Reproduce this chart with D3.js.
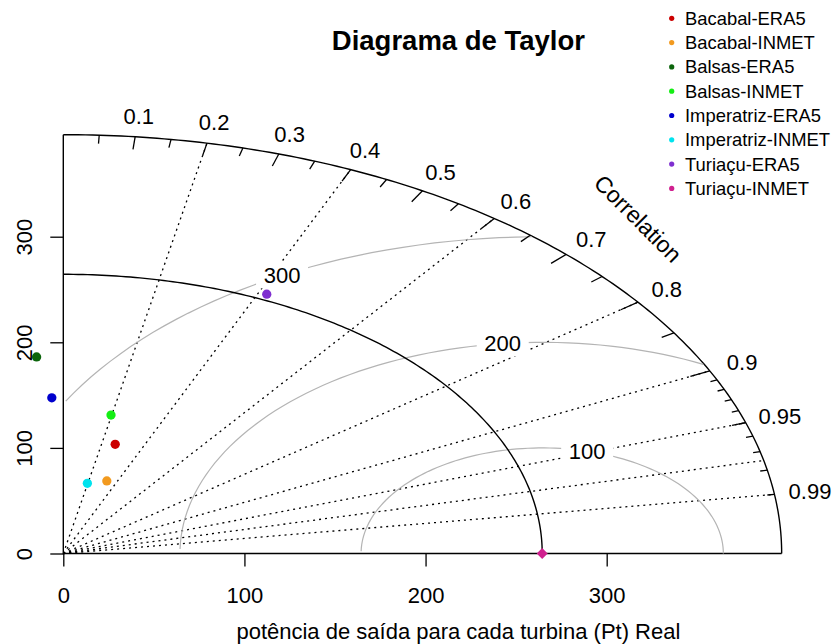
<!DOCTYPE html>
<html>
<head>
<meta charset="utf-8">
<script src="https://cdn.jsdelivr.net/npm/d3@7"></script>
<style>
  body { margin: 0; background: #fff; }
  svg text { font-family: "Liberation Sans", Arial, sans-serif; }
</style>
</head>
<body>
<div id="chart"></div>
<script>
// Taylor diagram data
const stations = ["Bacabal-ERA5", "Bacabal-INMET", "Balsas-ERA5", "Balsas-INMET",
                  "Imperatriz-ERA5", "Imperatriz-INMET", "Turiaçu-ERA5", "Turiaçu-INMET"]
const stdDevs = [107.3, 72.8, 186.7, 133.7, 147.6, 67.8, 270.0, 264.4]
const correlations = [0.267, 0.330, -0.079, 0.197, -0.043, 0.196, 0.416, 1.0]
const pointColors = ["#cc0000", "#f29a1f", "#0b640b", "#14ee14", "#0000cd", "#00e3ee", "#7f2fd0", "#d0218f"]
const pointShapes = ["circle", "circle", "circle", "circle", "circle", "circle", "circle", "diamond"]

const refSd = 264.4
const maxSd = 1.5 * refSd
const gammaValues = [100, 200, 300]
const corrLines = [0.2, 0.4, 0.6, 0.8, 0.9, 0.95, 0.975, 0.99]
const corrLabels = [0.1, 0.2, 0.3, 0.4, 0.5, 0.6, 0.7, 0.8, 0.9, 0.95, 0.99]
const axisTicks = [0, 100, 200, 300]

const width = 834
const height = 644
const fontSize = 22

const svg = d3.select("#chart").append("svg")
    .attr("width", width)
    .attr("height", height)
    .style("background", "#fff")

// plot region like R: xlim = ylim = c(0, 1.1 * maxsd), xaxs = "i"
const x = d3.scaleLinear().domain([0, 1.1 * maxSd]).range([63.3, 63.3 + 1.8113 * 1.1 * maxSd])
const y = d3.scaleLinear().domain([0, 1.1 * maxSd]).range([553.5, 553.5 - 1.056 * 1.1 * maxSd])

const line = d3.line().x(d => x(d[0])).y(d => y(d[1]))

// --------- correlation lines (dotted)
svg.append("g").selectAll("line")
    .data(corrLines)
    .join("line")
    .attr("x1", x(0)).attr("y1", y(0))
    .attr("x2", d => x(maxSd * d))
    .attr("y2", d => y(maxSd * Math.sqrt(1 - d * d)))
    .attr("stroke", "#000")
    .attr("stroke-width", 1.3)
    .attr("stroke-dasharray", "2,4")

// outer frame: left + bottom segments and outer arc
svg.append("path")
    .attr("d", line([[0, maxSd], [0, 0], [maxSd, 0]]))
    .attr("fill", "none").attr("stroke", "#000").attr("stroke-width", 1.4)

const quarter = d3.range(0, Math.PI / 2 + 0.001, 0.01).concat([Math.PI / 2])
svg.append("path")
    .attr("d", line(quarter.map(a => [Math.cos(a) * maxSd, Math.sin(a) * maxSd])))
    .attr("fill", "none").attr("stroke", "#000").attr("stroke-width", 1.4)

// --------- axes
const xAxis = svg.append("g")
    .attr("transform", `translate(0,${y(0)})`)
    .call(d3.axisBottom(x).tickValues(axisTicks).tickSize(13).tickPadding(21))
xAxis.select(".domain").remove()
xAxis.selectAll("line").attr("stroke-width", 1.3)
xAxis.selectAll("text").style("font-size", fontSize + "px").attr("fill", "#000")

const yAxis = svg.append("g")
    .attr("transform", `translate(${x(0)},0)`)
    .call(d3.axisLeft(y).tickValues(axisTicks).tickSize(13))
yAxis.select(".domain").remove()
yAxis.selectAll("line").attr("stroke-width", 1.3)
yAxis.selectAll("text")
    .style("font-size", fontSize + "px")
    .attr("fill", "#000")
    .attr("text-anchor", "middle")
    .attr("x", 0).attr("dy", "0.35em")
    .attr("transform", "translate(-39.5,0) rotate(-90)")

// --------- centred RMS (gamma) arcs, same stepping as plotrix
const gammaAngles = d3.range(0, Math.PI, 0.03)
const labelIdx = gammaValues.map((g, i) => Math.floor(45 + i * 25 / (gammaValues.length - 1)) - 1)

gammaValues.forEach((g, gi) => {
    const pts = gammaAngles.map(a => [Math.cos(a) * g + refSd, Math.sin(a) * g])
    const neg = pts.findIndex(p => p[0] < 0)
    const end = neg >= 0 ? neg - 1 : pts.length - 1
    let start = 0
    pts.forEach((p, i) => { if (p[0] * p[0] + p[1] * p[1] > maxSd * maxSd) start = i + 1 })
    svg.append("path")
        .attr("d", line(pts.slice(start, end + 1)))
        .attr("fill", "none")
        .attr("stroke", "#b4b4b4")
        .attr("stroke-width", 1.2)

    const lp = pts[labelIdx[gi]]
    if (lp[0] > 0) {
        const lbl = svg.append("g").attr("transform", `translate(${x(lp[0])},${y(lp[1])})`)
        lbl.append("rect")
            .attr("x", -26).attr("y", -13).attr("width", 52).attr("height", 26)
            .attr("fill", "#fff")
        lbl.append("text")
            .attr("text-anchor", "middle")
            .attr("dy", "0.35em")
            .style("font-size", fontSize + "px")
            .text(g)
    }
})

// --------- reference sd arc
svg.append("path")
    .attr("d", line(quarter.map(a => [Math.cos(a) * refSd, Math.sin(a) * refSd])))
    .attr("fill", "none").attr("stroke", "#000").attr("stroke-width", 1.4)

// --------- correlation ticks on outer arc
const bigTicks = d3.range(1, 10).map(i => i / 10)
const medTicks = d3.range(0, 10).map(i => 0.05 + i / 10)
const smlTicks = d3.range(1, 10).map(i => 0.9 + i / 100)
const tickSets = [[bigTicks, 0.97], [medTicks, 0.98], [smlTicks, 0.99]]
tickSets.forEach(([vals, inner]) => {
    svg.append("g").selectAll("line")
        .data(vals)
        .join("line")
        .attr("x1", d => x(d * maxSd))
        .attr("y1", d => y(Math.sqrt(1 - d * d) * maxSd))
        .attr("x2", d => x(d * inner * maxSd))
        .attr("y2", d => y(Math.sqrt(1 - d * d) * inner * maxSd))
        .attr("stroke", "#000")
        .attr("stroke-width", 1.3)
})

svg.append("g").selectAll("text")
    .data(corrLabels)
    .join("text")
    .attr("x", d => x(d * 1.05 * maxSd))
    .attr("y", d => y(Math.sqrt(1 - d * d) * 1.05 * maxSd))
    .attr("text-anchor", "middle")
    .attr("dy", "0.35em")
    .style("font-size", fontSize + "px")
    .text(d => d)

svg.append("text")
    .attr("transform", `translate(${x(0.8 * maxSd)},${y(0.8 * maxSd)}) rotate(45)`)
    .attr("text-anchor", "middle")
    .attr("dy", "0.35em")
    .style("font-size", "23px")
    .text("Correlation")

// --------- model points
const models = stations.map((s, i) => ({
    name: s,
    sd: stdDevs[i],
    cor: correlations[i],
    color: pointColors[i],
    shape: pointShapes[i]
}))

svg.append("g").selectAll("path")
    .data(models)
    .join("path")
    .attr("transform", d => `translate(${x(d.sd * d.cor)},${y(d.sd * Math.sqrt(1 - d.cor * d.cor))})` +
        (d.shape === "diamond" ? " rotate(45)" : ""))
    .attr("d", d => d.shape === "diamond"
        ? d3.symbol(d3.symbolSquare, 60)()
        : d3.symbol(d3.symbolCircle, 68)())
    .attr("fill", d => d.color)

// --------- title and axis title
svg.append("text")
    .attr("x", (x.range()[0] + x.range()[1]) / 2)
    .attr("y", 50)
    .attr("text-anchor", "middle")
    .style("font-size", "27.5px")
    .style("font-weight", "bold")
    .text("Diagrama de Taylor")

svg.append("text")
    .attr("x", (x.range()[0] + x.range()[1]) / 2)
    .attr("y", 639)
    .attr("text-anchor", "middle")
    .style("font-size", fontSize + "px")
    .text("potência de saída para cada turbina (Pt) Real")

// --------- legend
const legend = svg.append("g").attr("transform", "translate(671.7,18.3)")
const rows = legend.selectAll("g")
    .data(models)
    .join("g")
    .attr("transform", (d, i) => `translate(0,${i * 24.3})`)
rows.append("circle").attr("r", 2.6).attr("fill", d => d.color)
rows.append("text")
    .attr("x", 13.3)
    .attr("dy", "0.35em")
    .style("font-size", "18.4px")
    .text(d => d.name)
</script>
</body>
</html>
